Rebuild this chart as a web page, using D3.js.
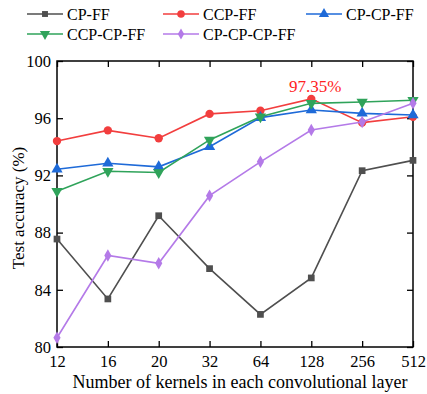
<!DOCTYPE html>
<html><head><meta charset="utf-8">
<script src="https://cdn.jsdelivr.net/npm/d3@7"></script>
<style>body{margin:0;background:#fff}svg{display:block}</style>
</head><body><svg id="c" width="427" height="394" font-family="'Liberation Serif', 'Times New Roman', 'DejaVu Serif', serif"></svg>
<script>
const categories = ["12","16","20","32","64","128","256","512"];
const seriesNames = ["CP-FF","CCP-FF","CP-CP-FF","CCP-CP-FF","CP-CP-CP-FF"];
const cpFF = [87.55,83.36,89.18,85.48,82.28,84.83,92.33,93.05];
const ccpFF = [94.4,95.15,94.6,96.3,96.52,97.35,95.69,96.1];
const cpcpFF = [92.43,92.85,92.6,94.0,96.04,96.57,96.34,96.22];
const ccpcpFF = [90.9,92.29,92.2,94.48,96.1,97.04,97.13,97.25];
const cpcpcpFF = [80.65,86.4,85.85,90.58,92.95,95.17,95.73,97.04];
const yTicks = [80,84,88,92,96,100];
const annotation = "97.35%";

const FONT = "'Liberation Serif', 'Times New Roman', serif";
const colors = ["#4f4f4f","#f23e3e","#1e6ad8","#2fa35a","#b47ae8"];
const symbols = [d3.symbolSquare, d3.symbolCircle, d3.symbolTriangle, d3.symbolTriangle, d3.symbolDiamond];
const rotations = [0,0,0,180,0];
const sizes = [45,55,55,55,45];
const data = [cpFF, ccpFF, cpcpFF, ccpcpFF, cpcpcpFF];

const svg = d3.select("#c");
const L=57,R=413,T=61,B=347;
const x = d3.scalePoint().domain(categories).range([L,R]);
const y = d3.scaleLinear().domain([80,100]).range([B,T]);

const gx = svg.append("g").attr("transform",`translate(0,${B})`).call(d3.axisBottom(x).tickSizeInner(-6).tickSizeOuter(0).tickPadding(8));
const gxt = svg.append("g").attr("transform",`translate(0,${T})`).call(d3.axisTop(x).tickSizeInner(-6).tickSizeOuter(0).tickFormat(""));
const gy = svg.append("g").attr("transform",`translate(${L},0)`).call(d3.axisLeft(y).tickValues(yTicks).tickSizeInner(-6).tickSizeOuter(0).tickPadding(6));
const gyr = svg.append("g").attr("transform",`translate(${R},0)`).call(d3.axisRight(y).tickValues(yTicks).tickSizeInner(-6).tickSizeOuter(0).tickFormat(""));
svg.selectAll("g").attr("font-family",FONT).attr("font-size",16.5);
svg.selectAll(".domain").remove();
svg.selectAll(".tick line").attr("stroke","#000").attr("stroke-width",1.3);
svg.selectAll(".tick text").attr("fill","#000");
svg.append("rect").attr("x",L).attr("y",T).attr("width",R-L).attr("height",B-T).attr("fill","none").attr("stroke","#000").attr("stroke-width",1.5);

const line = d3.line().x((d,i)=>x(categories[i])).y(d=>y(d));
data.forEach((s,k)=>{
  svg.append("path").datum(s).attr("d",line).attr("fill","none").attr("stroke",colors[k]).attr("stroke-width",1.6);
  svg.append("g").selectAll("path").data(s).join("path")
    .attr("d",d3.symbol().type(symbols[k]).size(sizes[k]))
    .attr("transform",(d,i)=>`translate(${x(categories[i])},${y(d)}) rotate(${rotations[k]})`)
    .attr("fill",colors[k]);
});

svg.append("text").attr("x",x("128")+4).attr("y",y(97.35)-7).attr("text-anchor","middle").attr("fill","#f22").attr("font-family",FONT).attr("font-size",17).text(annotation);

svg.append("text").attr("x",240).attr("y",388).attr("text-anchor","middle").attr("font-family",FONT).attr("font-size",18).text("Number of kernels in each convolutional layer");
svg.append("text").attr("transform",`translate(24,208) rotate(-90)`).attr("text-anchor","middle").attr("font-family",FONT).attr("font-size",17).text("Test accuracy (%)");

const legPos = [[27,14],[163,14],[306,14],[27,34],[163,34]];
seriesNames.forEach((n,k)=>{
  const [lx,ly]=legPos[k];
  const g = svg.append("g").attr("transform",`translate(${lx},${ly})`);
  g.append("line").attr("x1",0).attr("x2",36).attr("y1",0).attr("y2",0).attr("stroke",colors[k]).attr("stroke-width",1.6);
  g.append("path").attr("d",d3.symbol().type(symbols[k]).size(sizes[k]-10)).attr("transform",`translate(18,0) rotate(${rotations[k]})`).attr("fill",colors[k]);
  g.append("text").attr("x",40).attr("y",5.5).attr("font-family",FONT).attr("font-size",16).text(n);
});
</script></body></html>
